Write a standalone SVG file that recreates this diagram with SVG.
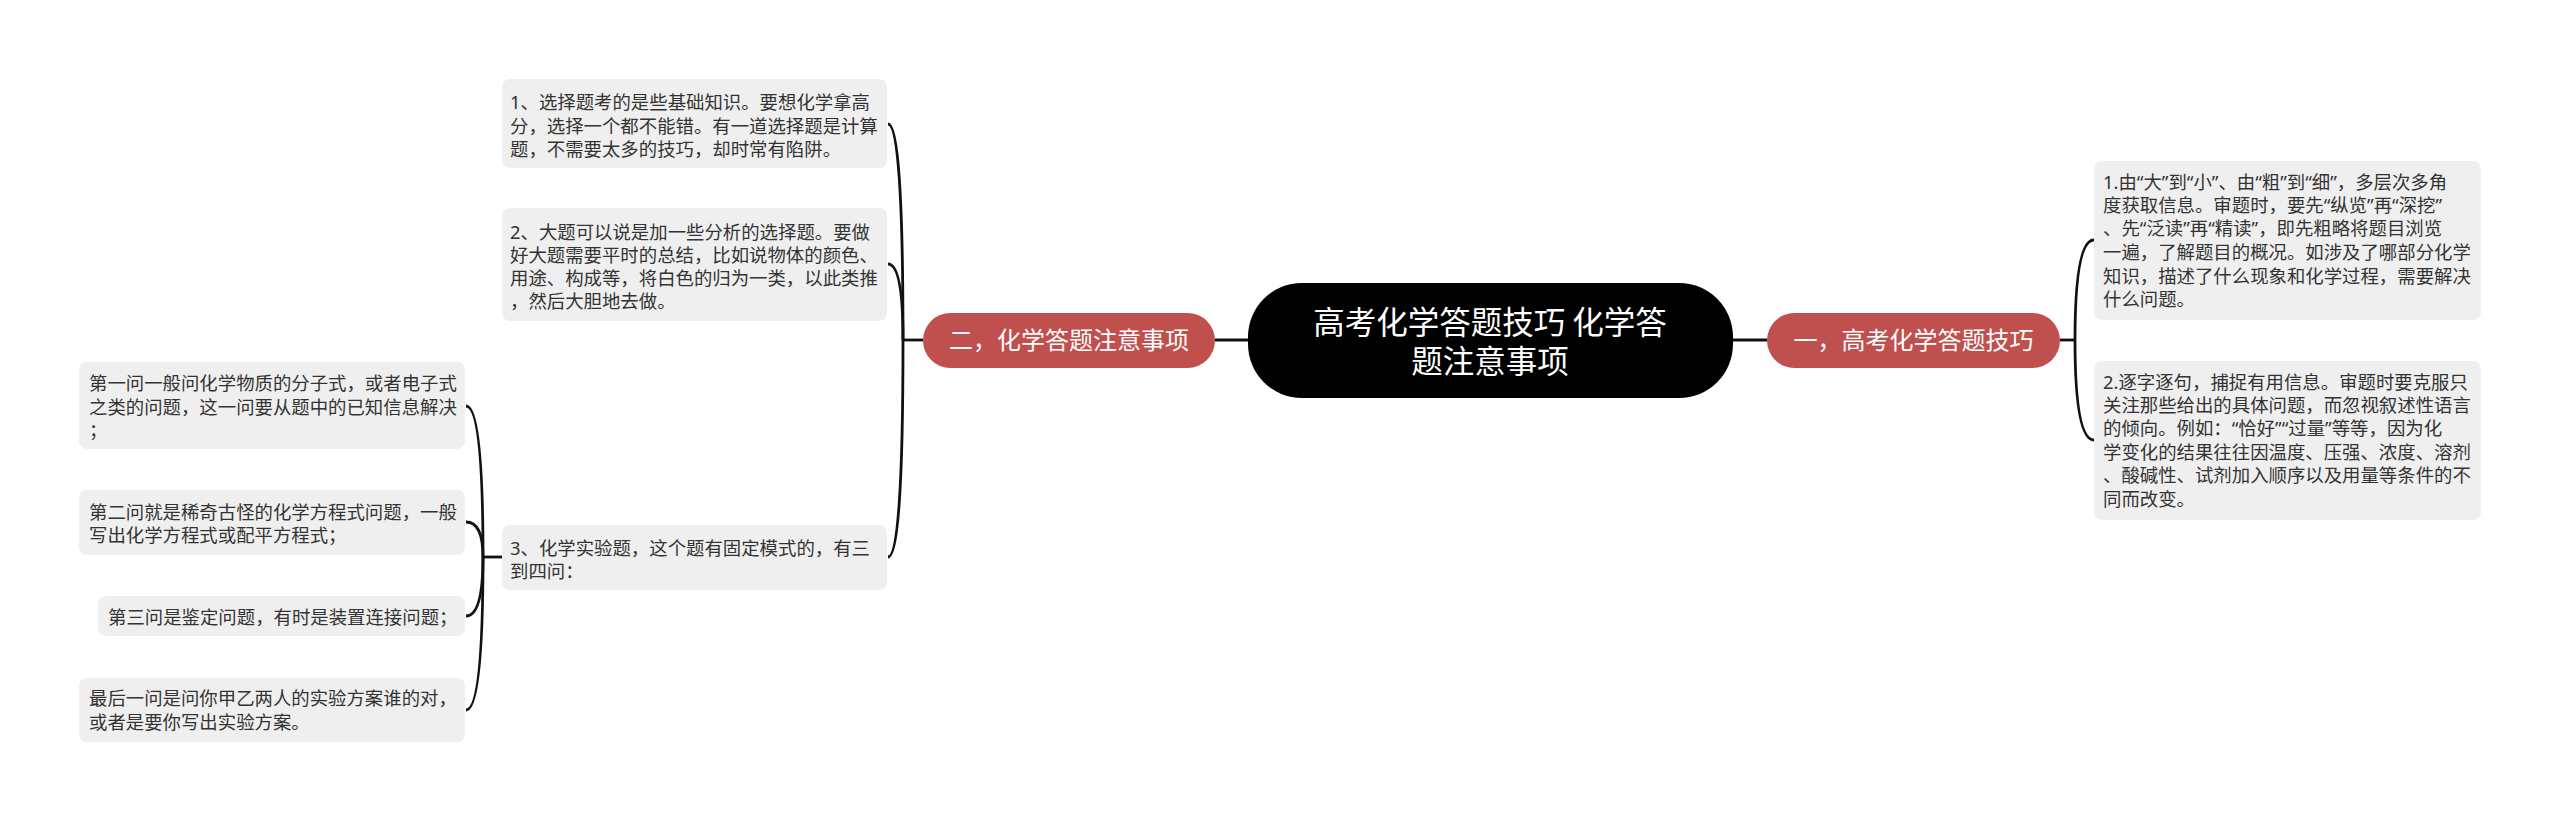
<svg xmlns="http://www.w3.org/2000/svg" width="2560" height="822" viewBox="0 0 2560 822">
<style>
.bx{fill:#efefef}
.t{font-family:"Noto Sans","Noto Sans CJK SC",sans-serif;font-size:18.4px;fill:#333}
.pill{fill:#c0504d}
.pt{font-family:"Noto Sans CJK SC","Noto Sans",sans-serif;font-size:24px;fill:#fff;text-anchor:middle}
.ct{font-family:"Noto Sans CJK SC","Noto Sans",sans-serif;font-size:31.5px;fill:#fff;text-anchor:middle}
.ln{fill:none;stroke:#111;stroke-width:2.8}
</style>
<rect width="2560" height="822" fill="#fff"/>
<g id="connectors">
<path class="ln" d="M1248 340 H1215"/>
<path class="ln" d="M1733 340 H1767"/>
<path class="ln" d="M923 340 H903"/>
<path class="ln" d="M903 340 Q903 124 888 124"/>
<path class="ln" d="M903 340 Q903 264 888 264"/>
<path class="ln" d="M903 340 Q903 557 888 557"/>
<path class="ln" d="M502 557 H483"/>
<path class="ln" d="M483 557 Q483 406 466 406"/>
<path class="ln" d="M483 557 Q483 522 466 522"/>
<path class="ln" d="M483 557 Q483 616 466 616"/>
<path class="ln" d="M483 557 Q483 710 466 710"/>
<path class="ln" d="M2060 340 H2075"/>
<path class="ln" d="M2075 340 Q2075 240 2094 240"/>
<path class="ln" d="M2075 340 Q2075 440 2094 440"/>
</g>
<g id="center">
<rect x="1248" y="283" width="485" height="115" rx="54" fill="#000"/>
<text class="ct"><tspan x="1490" y="334">高考化学答题技巧 化学答</tspan><tspan x="1490" y="373">题注意事项</tspan></text>
</g>
<g id="left-main">
<rect class="pill" x="923" y="313" width="292" height="55" rx="27.5"/>
<text class="pt" x="1069" y="349">二，化学答题注意事项</text>
</g>
<g id="right-main">
<rect class="pill" x="1767" y="313" width="293" height="55" rx="27.5"/>
<text class="pt" x="1913.5" y="349">一，高考化学答题技巧</text>
</g>
<g id="l1">
<rect class="bx" x="502" y="79" width="385" height="89" rx="8"/>
<text class="t"><tspan x="510" y="108.5">1、选择题考的是些基础知识。要想化学拿高</tspan><tspan x="510" y="132.5">分，选择一个都不能错。有一道选择题是计算</tspan><tspan x="510" y="155.5">题，不需要太多的技巧，却时常有陷阱。</tspan></text>
</g>
<g id="l2">
<rect class="bx" x="502" y="208" width="385" height="113" rx="8"/>
<text class="t"><tspan x="510" y="238.5">2、大题可以说是加一些分析的选择题。要做</tspan><tspan x="510" y="261.5">好大题需要平时的总结，比如说物体的颜色、</tspan><tspan x="510" y="284.5">用途、构成等，将白色的归为一类，以此类推</tspan><tspan x="510" y="307.5">，然后大胆地去做。</tspan></text>
</g>
<g id="l3">
<rect class="bx" x="502" y="525" width="385" height="65" rx="8"/>
<text class="t"><tspan x="510" y="554.5">3、化学实验题，这个题有固定模式的，有三</tspan><tspan x="510" y="577.5">到四问：</tspan></text>
</g>
<g id="l3a">
<rect class="bx" x="79" y="362" width="386" height="87" rx="8"/>
<text class="t"><tspan x="89" y="389.5">第一问一般问化学物质的分子式，或者电子式</tspan><tspan x="89" y="413.5">之类的问题，这一问要从题中的已知信息解决</tspan><tspan x="89" y="436.5">；</tspan></text>
</g>
<g id="l3b">
<rect class="bx" x="79" y="490" width="386" height="65" rx="8"/>
<text class="t"><tspan x="89" y="518.5">第二问就是稀奇古怪的化学方程式问题，一般</tspan><tspan x="89" y="541.5">写出化学方程式或配平方程式；</tspan></text>
</g>
<g id="l3c">
<rect class="bx" x="98" y="596" width="367" height="40" rx="8"/>
<text class="t" x="108" y="623.5">第三问是鉴定问题，有时是装置连接问题；</text>
</g>
<g id="l3d">
<rect class="bx" x="79" y="678" width="386" height="64" rx="8"/>
<text class="t"><tspan x="89" y="704.5">最后一问是问你甲乙两人的实验方案谁的对，</tspan><tspan x="89" y="728.5">或者是要你写出实验方案。</tspan></text>
</g>
<g id="r1">
<rect class="bx" x="2094" y="161" width="387" height="159" rx="8"/>
<text class="t"><tspan x="2103" y="188.5">1.由“大”到“小”、由“粗”到“细”，多层次多角</tspan><tspan x="2103" y="211.5">度获取信息。审题时，要先“纵览”再“深挖”</tspan><tspan x="2103" y="234.5">、先“泛读”再“精读”，即先粗略将题目浏览</tspan><tspan x="2103" y="258.5">一遍，了解题目的概况。如涉及了哪部分化学</tspan><tspan x="2103" y="282.5">知识，描述了什么现象和化学过程，需要解决</tspan><tspan x="2103" y="305.5">什么问题。</tspan></text>
</g>
<g id="r2">
<rect class="bx" x="2094" y="361" width="387" height="159" rx="8"/>
<text class="t"><tspan x="2103" y="388.5">2.逐字逐句，捕捉有用信息。审题时要克服只</tspan><tspan x="2103" y="411.5">关注那些给出的具体问题，而忽视叙述性语言</tspan><tspan x="2103" y="434.5">的倾向。例如：“恰好”“过量”等等，因为化</tspan><tspan x="2103" y="458.5">学变化的结果往往因温度、压强、浓度、溶剂</tspan><tspan x="2103" y="481.5">、酸碱性、试剂加入顺序以及用量等条件的不</tspan><tspan x="2103" y="505.5">同而改变。</tspan></text>
</g>
</svg>
